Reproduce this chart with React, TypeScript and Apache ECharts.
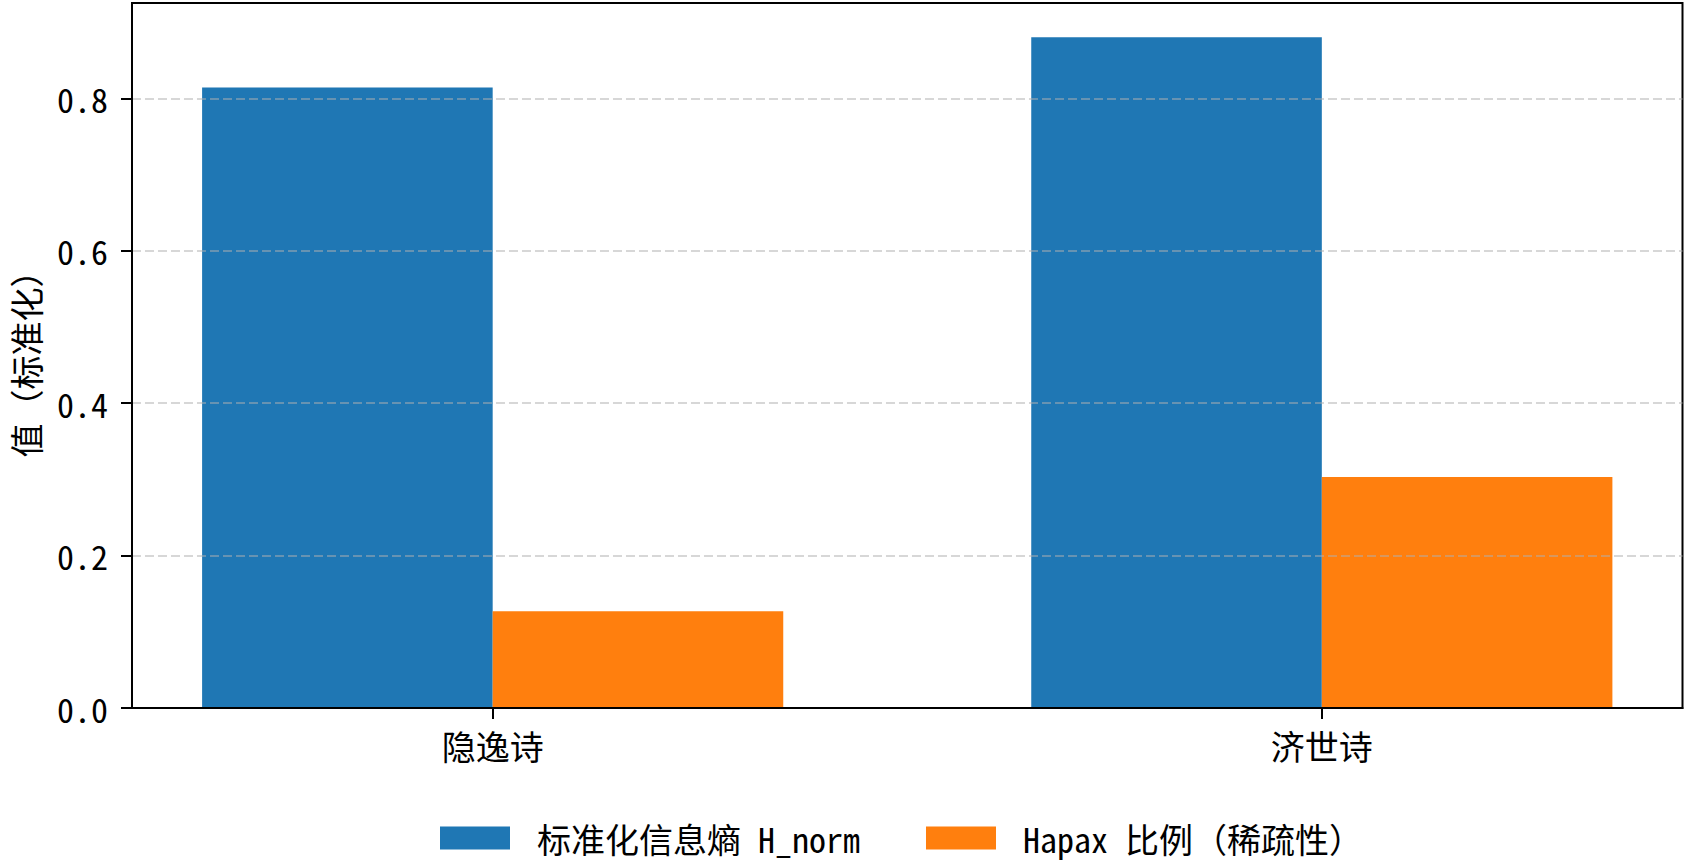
import React, { useEffect, useRef } from "react";
import * as echarts from "echarts";

const CATEGORIES = ["隐逸诗", "济世诗"];
const SERIES_NAMES = ["标准化信息熵 H_norm", "Hapax 比例（稀疏性）"];
const H_NORM = [0.814, 0.88];
const HAPAX = [0.127, 0.303];
const Y_TICKS = [0, 0.2, 0.4, 0.6, 0.8];
const COLORS = ["#1f77b4", "#ff7f0e"];

const BAR_WIDTH_UNITS = 0.35;
const X_MIN = -0.435;
const X_MAX = 1.435;
const Y_MAX = 0.925;

const FONT = "'Noto Sans Mono CJK SC', 'Noto Sans CJK SC', 'DejaVu Sans Mono', sans-serif";

export default function App() {
  const ref = useRef<HTMLDivElement>(null);

  useEffect(() => {
    if (!ref.current) return;
    const chart = echarts.init(ref.current, undefined, { renderer: "svg" });
    const gridLeft = 130;
    const gridRight = 6.5;
    const plotWidth = 1689 - gridLeft - gridRight;
    const barPx = (BAR_WIDTH_UNITS * plotWidth) / (X_MAX - X_MIN);
    const idx = CATEGORIES.map((_, i) => i);

    chart.setOption({
      animation: false,
      backgroundColor: "#ffffff",
      textStyle: { fontFamily: FONT, color: "#000" },
      grid: {
        left: gridLeft,
        right: gridRight,
        top: 3,
        bottom: 153,
        show: true,
        borderColor: "#000",
        borderWidth: 2,
        backgroundColor: "transparent",
      },
      legend: {
        left: 435,
        top: 816,
        icon: "rect",
        itemWidth: 70,
        itemHeight: 23,
        itemGap: 66,
        data: SERIES_NAMES,
        textStyle: {
          fontFamily: FONT,
          fontSize: 34,
          color: "#000",
          padding: [0, 0, 0, 22],
        },
      },
      xAxis: {
        type: "value",
        min: X_MIN,
        max: X_MAX,
        z: 6,
        splitLine: { show: false },
        axisLine: { show: true, onZero: false, lineStyle: { color: "#000", width: 2 } },
        axisTick: {
          show: true,
          length: 11,
          customValues: idx,
          lineStyle: { color: "#000", width: 2 },
        },
        axisLabel: {
          customValues: idx,
          margin: 20,
          fontFamily: FONT,
          fontSize: 34,
          color: "#000",
          formatter: (v: number) => CATEGORIES[Math.round(v)] ?? "",
        },
      },
      yAxis: {
        type: "value",
        min: 0,
        max: Y_MAX,
        interval: 0.2,
        z: 5,
        name: "值（标准化）",
        nameLocation: "middle",
        nameGap: 90,
        nameTextStyle: { fontFamily: FONT, fontSize: 34, color: "#000" },
        axisLine: { show: true, onZero: false, lineStyle: { color: "#000", width: 2 } },
        axisTick: {
          show: true,
          length: 11,
          customValues: Y_TICKS,
          lineStyle: { color: "#000", width: 2 },
        },
        axisLabel: {
          customValues: Y_TICKS,
          margin: 24,
          fontFamily: FONT,
          fontSize: 34,
          color: "#000",
          formatter: (v: number) => v.toFixed(1),
        },
        splitLine: {
          show: true,
          lineStyle: {
            color: "rgba(176,176,176,0.5)",
            width: 2,
            type: [9, 4],
          },
        },
      },
      series: [
        {
          name: SERIES_NAMES[0],
          type: "bar",
          barWidth: barPx,
          barGap: "0%",
          itemStyle: { color: COLORS[0] },
          data: H_NORM.map((v, i) => [i, v]),
        },
        {
          name: SERIES_NAMES[1],
          type: "bar",
          barWidth: barPx,
          barGap: "0%",
          itemStyle: { color: COLORS[1] },
          data: HAPAX.map((v, i) => [i, v]),
        },
      ],
    });

    return () => chart.dispose();
  }, []);

  return (
    <div
      ref={ref}
      style={{ position: "fixed", left: 0, top: 0, width: 1689, height: 861 }}
    />
  );
}
